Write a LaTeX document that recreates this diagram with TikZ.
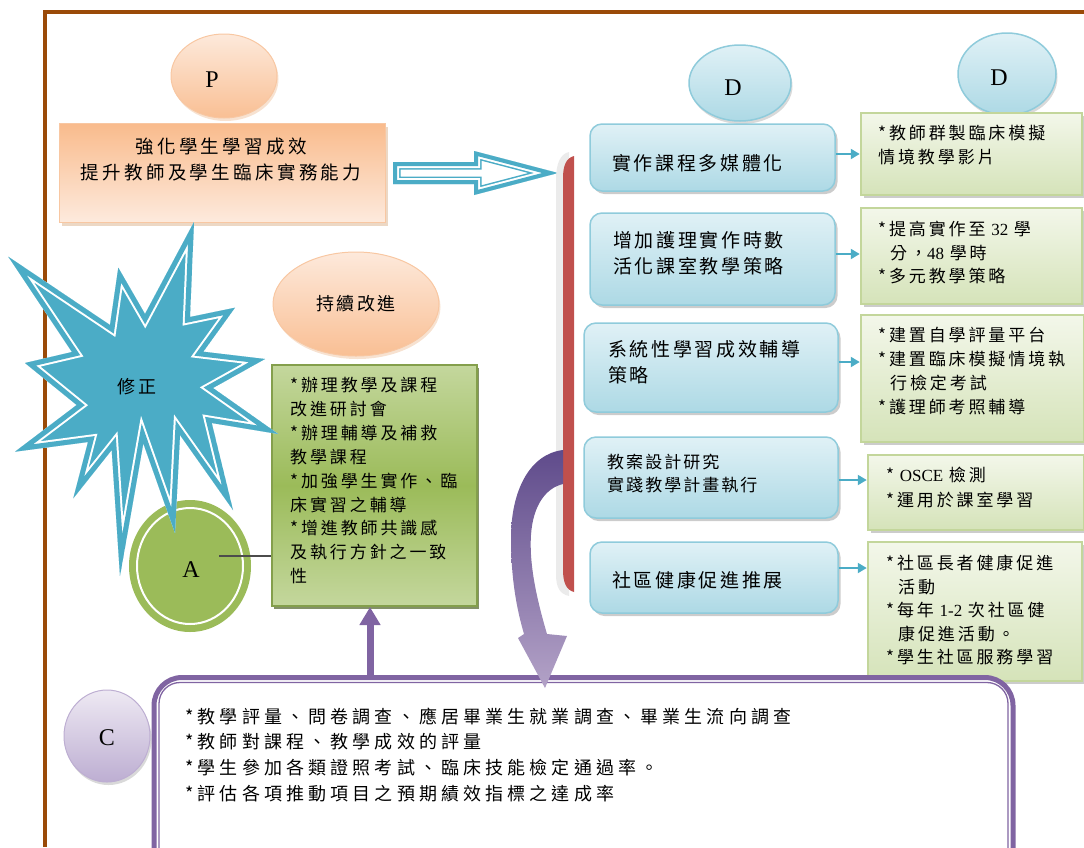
\documentclass[tikz,border=0pt]{standalone}
\usepackage{fontspec}
\setmainfont{Liberation Serif}
\newfontfamily\cjkP[LetterSpace=18]{Noto Sans CJK TC}
\newfontfamily\cjkB[LetterSpace=14]{Noto Sans CJK TC}
\newfontfamily\cjkG[LetterSpace=17]{Noto Sans CJK TC}
\newfontfamily\cjkS[LetterSpace=12]{Noto Sans CJK TC}
\newfontfamily\cjkC[LetterSpace=23]{Noto Sans CJK TC}
\newfontfamily\lat{Liberation Serif}
\usetikzlibrary{shapes.geometric,arrows.meta,shadows}
\definecolor{frameB}{HTML}{9A4A08}
\definecolor{tealA}{HTML}{4BACC6}
\definecolor{redB}{HTML}{C0504D}
\definecolor{purp}{HTML}{8064A2}
\definecolor{purpD}{HTML}{5F4B8B}
\definecolor{purpL}{HTML}{B3A2C7}
\definecolor{grnA}{HTML}{9BBB59}
\definecolor{grnL}{HTML}{C4D79D}
\definecolor{grnD}{HTML}{4F6228}
\definecolor{orT}{HTML}{F9BB8C}
\definecolor{orB}{HTML}{FDEADD}
\definecolor{orBd}{HTML}{F8C7A2}
\definecolor{orLt}{HTML}{FDE9DB}
\definecolor{orDk}{HTML}{F9BF94}
\definecolor{blT}{HTML}{E0F1F6}
\definecolor{blB}{HTML}{ADD9E5}
\definecolor{blBd}{HTML}{8FCBDB}
\definecolor{gnT}{HTML}{F3F7EA}
\definecolor{gnB}{HTML}{D5E3B9}
\definecolor{gnBd}{HTML}{C3D69B}
\definecolor{puT}{HTML}{EEE9F3}
\definecolor{puB}{HTML}{BDAED2}
\tikzset{
  shd/.style={drop shadow={shadow xshift=2.5pt,shadow yshift=-3pt,fill=black,opacity=0.2}},
  bbox/.style={rectangle,rounded corners=12pt,draw=blBd,line width=1.5pt,top color=blT,bottom color=blB,shd,inner sep=0pt},
  gbox/.style={rectangle,draw=gnBd,line width=2.5pt,top color=gnT,bottom color=gnB,shd,inner sep=0pt},
  oell/.style={ellipse,draw=orBd,line width=1pt,top color=orLt,bottom color=orDk,inner sep=0pt,
     drop shadow={shadow xshift=1.5pt,shadow yshift=-3pt,fill=orDk!70!brown,opacity=0.35}},
  dell/.style={ellipse,draw=blBd,line width=1.5pt,top color=blT,bottom color=blB,inner sep=0pt,
     drop shadow={shadow xshift=1.5pt,shadow yshift=-3pt,fill=black,opacity=0.15}},
  tx/.style={inner sep=0pt,anchor=base west,align=left,text width=330pt},
  tx1/.style={inner sep=0pt,anchor=base west},
  arr/.style={tealA,line width=2pt,-{Triangle[length=9pt,width=10pt]}},
  letter/.style={font=\lat\fontsize{24}{28}\selectfont}
}
\begin{document}
\begin{tikzpicture}[x=1pt,y=-1pt]
\useasboundingbox (0,0) rectangle (1084,847);
\begin{scope}
\clip (0,0) rectangle (1084,847);
% frame
\draw[frameB,line width=3.5pt] (45,847) -- (45,12) -- (1084,12);

% P ellipse and box
\node[oell,minimum width=106pt,minimum height=84pt] (pell) at (224,76) {};
\node[letter] (plab) at (212,80) {P};
\node[rectangle,draw=orBd,line width=1pt,top color=orT,bottom color=orB,inner sep=0pt,
      minimum width=326pt,minimum height=99pt,
      drop shadow={shadow xshift=3pt,shadow yshift=-4pt,fill=brown!60,opacity=0.5}] (pbox) at (222,172.5) {};
\node[font=\cjkP\fontsize{18.5}{26}\selectfont,align=center,inner sep=0pt] (ptext) at (221,160)
  {強化學生學習成效\\提升教師及學生臨床實務能力};

% double block arrow
\def\arrpath{(393,162) -- (474,162) -- (474,151) -- (558,173) -- (474,195) -- (474,184) -- (393,184) -- cycle}
\begin{scope}
\clip \arrpath;
\fill[white] \arrpath;
\draw[tealA,line width=15pt,line join=miter,miter limit=40] \arrpath;
\draw[white,line width=12pt,line join=miter,miter limit=40] \arrpath;
\draw[tealA,line width=8pt,line join=miter,miter limit=40] \arrpath;
\end{scope}

% red bracket bar
\fill[black!8] (569,152) .. controls (560,154) and (556,164) .. (556,180) -- (556,574) .. controls (556,588) and (560,594) .. (569,596) -- cycle;
\fill[redB] (574,156) -- (574,592) .. controls (566,590) and (563,582) .. (563,570) -- (563,178) .. controls (563,166) and (566,158) .. (574,156) -- cycle;

% D ellipses
\node[dell,minimum width=102pt,minimum height=76pt] (d1) at (740,83) {};
\node[letter] (d1lab) at (733,88) {D};
\node[dell,minimum width=98pt,minimum height=82pt] (d2) at (1007,74) {};
\node[letter] (d2lab) at (999,78) {D};

% blue boxes
\node[bbox,minimum width=245pt,minimum height=67pt] (b1) at (712.5,157.5) {};
\node[bbox,minimum width=245pt,minimum height=92pt] (b2) at (712.5,259) {};
\node[bbox,minimum width=254pt,minimum height=89pt] (b3) at (711,367.5) {};
\node[bbox,minimum width=254pt,minimum height=81pt] (b4) at (711,477.5) {};
\node[bbox,minimum width=248pt,minimum height=71pt] (b5) at (714,577.5) {};
\node[tx1,font=\cjkB\fontsize{19}{26}\selectfont] (b1t) at (612,170) {實作課程多媒體化};
\node[tx,font=\cjkB\fontsize{19}{26.5}\selectfont] (b2t) at (613,247) {增加護理實作時數\\活化課室教學策略};
\node[tx,font=\cjkB\fontsize{19}{26}\selectfont] (b3t) at (608,356) {系統性學習成效輔導\\策略};
\node[tx,font=\cjkS\fontsize{17}{23}\selectfont] (b4t) at (607,468.5) {教案設計研究\\實踐教學計畫執行};
\node[tx1,font=\cjkB\fontsize{19}{26}\selectfont] (b5t) at (612,587) {社區健康促進推展};

% green boxes
\node[gbox,minimum width=221pt,minimum height=82pt] (g1) at (971.5,154) {};
\node[gbox,minimum width=221pt,minimum height=96pt] (g2) at (971.5,256) {};
\node[gbox,minimum width=223pt,minimum height=127pt] (g3) at (972.5,378.5) {};
\node[gbox,minimum width=216pt,minimum height=75pt] (g4) at (976,492.5) {};
\node[gbox,minimum width=214pt,minimum height=139pt] (g5) at (975,611.5) {};
\node[tx,font=\cjkG\fontsize{17}{24}\selectfont] (g1t) at (878,139.5) {*教師群製臨床模擬\\情境教學影片};
\node[tx,font=\cjkG\fontsize{17}{23.5}\selectfont] (g2t) at (878,235.5) {*提高實作至 {\lat 32} 學\\\hspace*{12pt}分，{\lat 48} 學時\\{*}多元教學策略};
\node[tx,font=\cjkG\fontsize{17}{24}\selectfont] (g3t) at (878,341.5) {*建置自學評量平台\\{*}建置臨床模擬情境執\\\hspace*{12pt}行檢定考試\\{*}護理師考照輔導};
\node[tx,font=\cjkG\fontsize{17}{24.5}\selectfont] (g4t) at (886,481.5) {* {\lat OSCE} 檢測\\{*}運用於課室學習};
\node[tx,font=\cjkG\fontsize{17}{23.5}\selectfont] (g5t) at (886,569.5) {*社區長者健康促進\\\hspace*{12pt}活動\\{*}每年 {\lat 1-2} 次社區健\\\hspace*{12pt}康促進活動。\\{*}學生社區服務學習};

% blue -> green arrows
\draw[arr] ([yshift=3.5pt]b1.east) -- ([yshift=3.5pt]b1.east -| g1.west);
\draw[arr] ([yshift=5pt]b2.east) -- ([yshift=5pt]b2.east -| g2.west);
\draw[arr] ([yshift=5.5pt]b3.east) -- ([yshift=5.5pt]b3.east -| g3.west);
\draw[arr] ([yshift=-2.5pt]b4.east) -- ([yshift=-2.5pt]b4.east -| g4.west);
\draw[arr] ([yshift=9.5pt]b5.east) -- ([yshift=9.5pt]b5.east -| g5.west);

% continuous improvement ellipse
\node[oell,minimum width=166pt,minimum height=104pt,font=\cjkS\fontsize{18}{20}\selectfont] (kaizen) at (356,304) {持續改進};

% A box
\node[rectangle,draw=grnA!85!black,line width=2pt,inner sep=0pt,
      minimum width=205pt,minimum height=241pt,
      shading=axis,top color=grnL,bottom color=grnL,middle color=grnA,
      drop shadow={shadow xshift=2pt,shadow yshift=-3pt,fill=grnD,opacity=0.7}] (abox) at (374.5,485.5) {};
\node[tx,font=\cjkG\fontsize{17}{23.9}\selectfont] (atext) at (290,391.5)
 {*辦理教學及課程\\改進研討會\\{*}辦理輔導及補救\\教學課程\\{*}加強學生實作、臨\\床實習之輔導\\{*}增進教師共識感\\及執行方針之一致\\性};

% A circle
\node[ellipse,fill=grnA,inner sep=0pt,minimum width=122pt,minimum height=132pt] (acirc) at (190,566) {};
\draw[white,line width=2pt] (acirc.center) ellipse [x radius=53, y radius=58];
\node[letter] (alab) at (191,570) {A};
\coordinate (aline) at (219,556);
\draw[black!70,line width=1.5pt] (aline) -- (aline -| abox.west);

% starburst
\def\starpath{(194,222) -- (190,317) -- (235,307.7) -- (203.3,351.7) -- (265,359) -- (213,388) -- (278.3,434) -- (211.7,423) -- (233,510) -- (180,435) -- (175,533) -- (143.3,443.3) -- (120,576) -- (111.7,450) -- (73.3,498.3) -- (88,442) -- (15,451.7) -- (76.7,405) -- (25,363) -- (72,352) -- (8.3,256.7) -- (110,325) -- (118.3,267.7) -- (145,314) -- cycle}
\begin{scope}
\clip \starpath;
\fill[tealA] \starpath;
\draw[white,line width=14pt,line join=miter,miter limit=40] \starpath;
\draw[tealA,line width=10pt,line join=miter,miter limit=40] \starpath;
\end{scope}
\node[font=\cjkS\fontsize{18}{20}\selectfont,inner sep=0pt] (fix) at (137,387) {修正};

% C box
\node[rectangle,rounded corners=28pt,draw=purp,line width=5pt,fill=white,inner sep=0pt,
      minimum width=859pt,minimum height=200pt] (cbox) at (583.5,777.5) {};
\draw[purp,line width=1.3pt,rounded corners=21pt] ([shift={(7.5pt,-7.5pt)}]cbox.north west) rectangle ([shift={(-7.5pt,7.5pt)}]cbox.south east);
\node[tx,font=\cjkC\fontsize{18}{25.7}\selectfont,text width=800pt] (ctext) at (185,723)
 {*教學評量、問卷調查、應居畢業生就業調查、畢業生流向調查\\{*}教師對課程、教學成效的評量\\{*}學生參加各類證照考試、臨床技能檢定通過率。\\{*}評估各項推動項目之預期績效指標之達成率};
\node[ellipse,draw=puB,line width=1pt,top color=puT,bottom color=puB,inner sep=0pt,
      minimum width=86pt,minimum height=92pt,
      drop shadow={shadow xshift=1.5pt,shadow yshift=-3pt,fill=black,opacity=0.15}] (cell) at (107,736) {};
\node[letter] (clab) at (107,738) {C};

% up arrow C -> A
\coordinate (upx) at (370,677);
\draw[purp,line width=7pt,-{Triangle[length=18pt,width=20pt]}] (upx) -- (upx |- abox.south);

% curved arrow from bar to C box
\shade[top color=purpD,bottom color=purpL]
 (563,450) .. controls (530,454) and (511,490) .. (511,538)
 .. controls (511,580) and (517,610) .. (524,634) -- (518,638) -- (545,688) -- (567,636) -- (547,634)
 .. controls (537,600) and (529,565) .. (531,535)
 .. controls (533,505) and (546,488) .. (563,484) -- cycle;
\end{scope}
\end{tikzpicture}
\end{document}
